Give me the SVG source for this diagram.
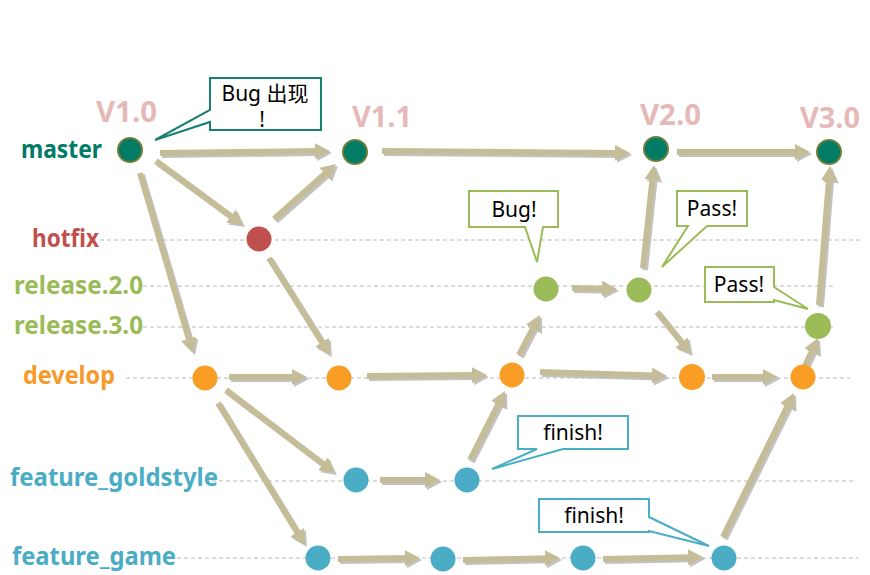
<svg xmlns="http://www.w3.org/2000/svg" width="870" height="575" viewBox="0 0 870 575">
<style>
.lbl{font-family:"Noto Sans","Open Sans",sans-serif;font-weight:bold;font-size:25px}
.ver{font-family:"Noto Sans","Open Sans",sans-serif;font-weight:bold;font-size:28px;fill:#E6B9B8}
.dash{stroke:#B8B8B8;stroke-width:1;stroke-dasharray:4 3;fill:none}
.arr{stroke:#C4BD97;stroke-width:6;fill:none;marker-end:url(#ah)}
.m{fill:#007B66;stroke:#6F7F3A;stroke-width:2}
.h{fill:#C0504D}
.r{fill:#9BBB59}
.d{fill:#F99D25}
.f{fill:#4BACC6}
.ct{font-family:"Noto Sans","Liberation Sans","Noto Sans CJK SC",sans-serif;font-size:21px;fill:#000;text-anchor:middle}
.cb{fill:#fff;stroke-width:2}
</style>
<defs>
<marker id="ah" markerUnits="userSpaceOnUse" markerWidth="15" markerHeight="16" refX="3" refY="8" orient="auto">
<path d="M0,0 L15,8 L0,16 z" fill="#C4BD97"/>
</marker>
<filter id="sh" x="-10%" y="-10%" width="130%" height="130%">
<feDropShadow dx="2" dy="2" stdDeviation="0.6" flood-color="#BBBBBB" flood-opacity="0.9"/>
</filter>
</defs>

<g id="lanes">
<line class="dash" x1="100" y1="240" x2="860" y2="240"/>
<line class="dash" x1="143" y1="286" x2="836" y2="286"/>
<line class="dash" x1="143" y1="327" x2="836" y2="327"/>
<line class="dash" x1="126" y1="378" x2="850" y2="378"/>
<line class="dash" x1="205" y1="481" x2="856" y2="481"/>
<line class="dash" x1="177" y1="558" x2="858" y2="558"/>
</g>

<g id="labels">
<text class="lbl" x="21" y="158" fill="#007B66" textLength="81" lengthAdjust="spacingAndGlyphs">master</text>
<text class="lbl" x="32" y="247" fill="#C0504D" textLength="67" lengthAdjust="spacingAndGlyphs">hotfix</text>
<text class="lbl" x="14" y="294" fill="#9BBB59" textLength="129" lengthAdjust="spacingAndGlyphs">release.2.0</text>
<text class="lbl" x="14" y="334" fill="#9BBB59" textLength="129" lengthAdjust="spacingAndGlyphs">release.3.0</text>
<text class="lbl" x="23" y="384" fill="#F79A2A" textLength="92" lengthAdjust="spacingAndGlyphs">develop</text>
<text class="lbl" x="10" y="486" fill="#4BACC6" textLength="208" lengthAdjust="spacingAndGlyphs">feature_goldstyle</text>
<text class="lbl" x="12" y="565" fill="#4BACC6" textLength="164" lengthAdjust="spacingAndGlyphs">feature_game</text>
<text class="ver" x="96" y="122" textLength="61" lengthAdjust="spacingAndGlyphs">V1.0</text>
<text class="ver" x="352" y="127" textLength="60" lengthAdjust="spacingAndGlyphs">V1.1</text>
<text class="ver" x="640" y="125" textLength="61" lengthAdjust="spacingAndGlyphs">V2.0</text>
<text class="ver" x="800" y="128" textLength="60" lengthAdjust="spacingAndGlyphs">V3.0</text>
</g>

<g id="connectors" filter="url(#sh)">
<line class="arr" x1="160" y1="153" x2="318" y2="151.1"/>
<line class="arr" x1="382" y1="151" x2="618" y2="152.9"/>
<line class="arr" x1="677" y1="152" x2="798" y2="152"/>
<line class="arr" x1="156" y1="161" x2="233.3" y2="217.9"/>
<line class="arr" x1="274" y1="219" x2="327" y2="172"/>
<line class="arr" x1="140" y1="173" x2="189.6" y2="341.5"/>
<line class="arr" x1="269" y1="258" x2="323.6" y2="344.8"/>
<line class="arr" x1="229" y1="377" x2="295" y2="377"/>
<line class="arr" x1="367" y1="376" x2="475" y2="375.1"/>
<line class="arr" x1="519" y1="355" x2="534.4" y2="325.6"/>
<line class="arr" x1="572" y1="288" x2="605" y2="288.7"/>
<line class="arr" x1="643" y1="268" x2="652.7" y2="176.9"/>
<line class="arr" x1="657" y1="312" x2="683.4" y2="344.7"/>
<line class="arr" x1="540" y1="372" x2="655" y2="375.6"/>
<line class="arr" x1="712" y1="377" x2="766" y2="377"/>
<line class="arr" x1="805" y1="366" x2="813" y2="348.9"/>
<line class="arr" x1="819" y1="305" x2="829.1" y2="178"/>
<line class="arr" x1="226" y1="390" x2="325.4" y2="465.7"/>
<line class="arr" x1="218" y1="403" x2="298.7" y2="534.8"/>
<line class="arr" x1="380" y1="480" x2="428" y2="480"/>
<line class="arr" x1="470" y1="460" x2="499.6" y2="401.7"/>
<line class="arr" x1="338" y1="559" x2="408" y2="558.1"/>
<line class="arr" x1="463" y1="560" x2="548" y2="558.2"/>
<line class="arr" x1="603" y1="559" x2="691" y2="557.2"/>
<line class="arr" x1="723" y1="537" x2="788.7" y2="403.8"/>
</g>

<g id="n-master-v10"><circle class="m" cx="130" cy="150" r="12"/></g>
<g id="n-master-v11"><circle class="m" cx="355" cy="152" r="12"/></g>
<g id="n-master-v20"><circle class="m" cx="656" cy="149" r="12"/></g>
<g id="n-master-v30"><circle class="m" cx="829" cy="152" r="12"/></g>
<g id="n-hotfix"><circle class="h" cx="259" cy="239" r="12.5"/></g>
<g id="n-rel2-a"><circle class="r" cx="546" cy="289" r="12.5"/></g>
<g id="n-rel2-b"><circle class="r" cx="639" cy="290" r="12.5"/></g>
<g id="n-rel3"><circle class="r" cx="818" cy="326" r="13"/></g>
<g id="n-dev-1"><circle class="d" cx="205" cy="378" r="12.5"/></g>
<g id="n-dev-2"><circle class="d" cx="339" cy="378" r="12.5"/></g>
<g id="n-dev-3"><circle class="d" cx="512" cy="375" r="12.5"/></g>
<g id="n-dev-4"><circle class="d" cx="692" cy="377" r="13"/></g>
<g id="n-dev-5"><circle class="d" cx="803" cy="377" r="12.5"/></g>
<g id="n-gold-1"><circle class="f" cx="356" cy="480" r="12.5"/></g>
<g id="n-gold-2"><circle class="f" cx="467" cy="480" r="12.5"/></g>
<g id="n-game-1"><circle class="f" cx="318" cy="558" r="12.5"/></g>
<g id="n-game-2"><circle class="f" cx="443" cy="559" r="12.5"/></g>
<g id="n-game-3"><circle class="f" cx="583" cy="558" r="12.5"/></g>
<g id="n-game-4"><circle class="f" cx="724" cy="558" r="12.5"/></g>

<g id="c-bug-appear">
<path class="cb" stroke="#1A8070" d="M210,78 H321 V130 H210 V122 L155,140 L210,110 Z"/>
<text class="ct" x="265" y="101">Bug 出现</text>
<text class="ct" x="262" y="127">!</text>
</g>
<g id="c-bug">
<path class="cb" stroke="#9BBB59" d="M469,191 H558 V227 H543 L537,262 L525,227 H469 Z"/>
<text class="ct" x="514" y="217">Bug!</text>
</g>
<g id="c-pass1">
<path class="cb" stroke="#9BBB59" d="M677,191 H747 V226 H707 L662,267 L688,226 H677 Z"/>
<text class="ct" x="712" y="216">Pass!</text>
</g>
<g id="c-pass2">
<path class="cb" stroke="#9BBB59" d="M705,267 H774 V287 L808,309 L774,300 V302 H705 Z"/>
<text class="ct" x="739" y="292">Pass!</text>
</g>
<g id="c-finish1">
<path class="cb" stroke="#4BACC6" d="M518,416 H628 V449 H563 L492,469 L537,449 H518 Z"/>
<text class="ct" x="573" y="440">finish!</text>
</g>
<g id="c-finish2">
<path class="cb" stroke="#4BACC6" d="M539,499 H649 V517 L709,546 L649,531 V532 H539 Z"/>
<text class="ct" x="594" y="523">finish!</text>
</g>
</svg>
